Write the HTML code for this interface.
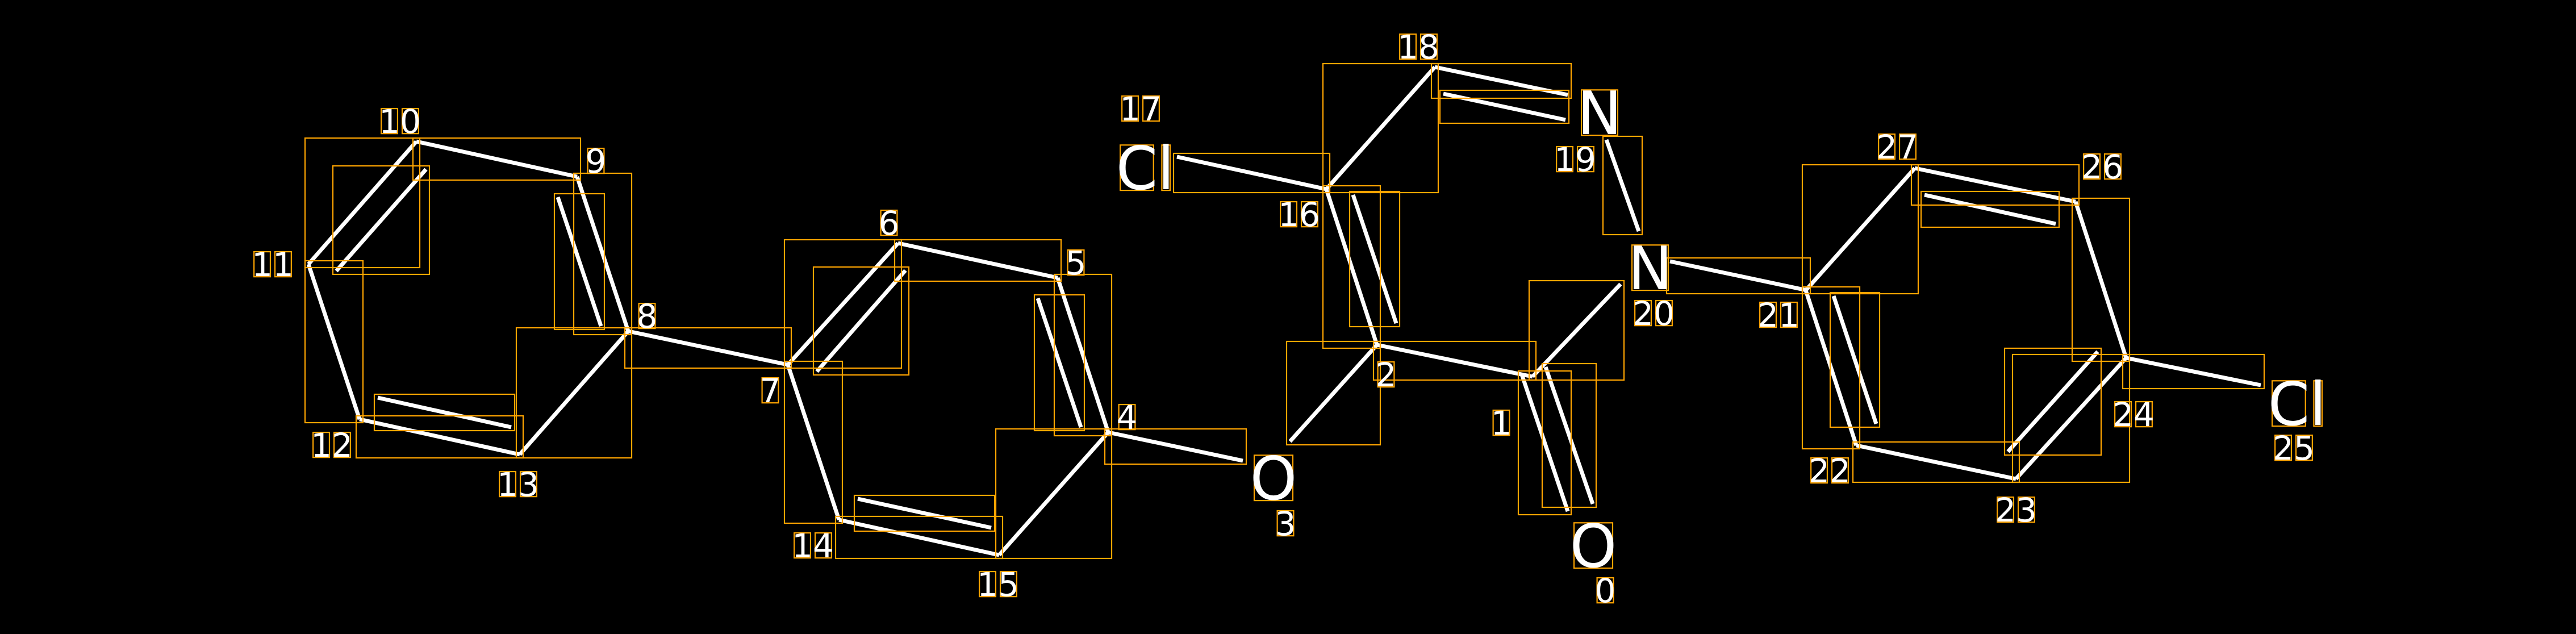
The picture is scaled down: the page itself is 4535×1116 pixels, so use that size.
<!DOCTYPE html>
<html><head><meta charset="utf-8">
<style>html,body{margin:0;padding:0;background:#000;}svg{display:block;}</style>
</head><body>
<svg id="s" width="4535" height="1116" viewBox="0 0 4535 1116" xmlns="http://www.w3.org/2000/svg">
<rect width="4535" height="1116" fill="#000"/>
<g id="bonds" stroke="#fff" stroke-width="7" stroke-linecap="butt"></g>
<g id="boxes" fill="none" stroke="#FFA500" stroke-width="2.2"></g>
<g id="labels" fill="#fff" font-family="DejaVu Sans, sans-serif">
<g font-size="58" text-anchor="middle">
<text x="704" y="234">10</text>
<text x="1049" y="304">9</text>
<text x="480" y="486">11</text>
<text x="584" y="804">12</text>
<text x="912" y="873">13</text>
<text x="1139" y="577">8</text>
<text x="1565" y="413">6</text>
<text x="1894" y="483">5</text>
<text x="1356" y="708">7</text>
<text x="1984" y="755">4</text>
<text x="1431" y="981">14</text>
<text x="1757" y="1049">15</text>
<text x="2008" y="212">17</text>
<text x="2497" y="103">18</text>
<text x="2287" y="398">16</text>
<text x="2773" y="301">19</text>
<text x="2911" y="572">20</text>
<text x="3131" y="575">21</text>
<text x="2440" y="680">2</text>
<text x="2643" y="765">1</text>
<text x="2263" y="942">3</text>
<text x="2826" y="1060">0</text>
<text x="3340" y="279">27</text>
<text x="3701" y="314">26</text>
<text x="3756" y="750">24</text>
<text x="3221" y="849">22</text>
<text x="3549" y="918">23</text>
<text x="4038" y="809">25</text>
</g>
<g font-size="105" text-anchor="middle">
<text x="2242" y="879">O</text>
<text x="2805" y="998">O</text>
<text x="2816" y="236">N</text>
<text x="2905" y="509">N</text>
<text x="2016" y="333">Cl</text>
<text x="4044" y="748">Cl</text>
</g>
</g>
</svg>
<script>
var B=[
[733,249,1016,311],[733,249,543,465],[543,465,633,738],[633,738,915,800],[915,800,1106,583],[1016,311,1106,583],
[750,298,592,477],[982,347,1058,574],[665,700,900,752],
[1106,583,1387,642],
[1387,642,1581,428],[1581,428,1862,489],[1862,489,1951,761],[1951,761,1759,977],[1759,977,1477,915],[1477,915,1387,642],
[1594,476,1438,654],[1827,525,1903,752],[1510,878,1745,929],
[1951,761,2188,811],
[2072,276,2335,333],[2335,333,2526,118],[2526,118,2760,167],[2541,165,2756,211],
[2828,246,2885,407],[2940,460,3181,511],
[2335,333,2424,607],[2382,343,2458,569],[2424,607,2271,777],[2424,607,2698,663],
[2698,663,2853,500],[2679,659,2760,900],[2721,646,2804,887],
[3179,511,3371,296],[3371,296,3654,355],[3654,355,3743,630],[3743,630,3549,843],[3549,843,3268,784],[3268,784,3179,511],
[3388,343,3619,394],[3228,521,3303,746],[3535,795,3693,619],
[3743,630,3980,678]
];
var NS="http://www.w3.org/2000/svg",bg=document.getElementById('bonds'),bx=document.getElementById('boxes');
function R(x,y,w,h){var r=document.createElementNS(NS,'rect');r.setAttribute('x',x);r.setAttribute('y',y);r.setAttribute('width',w);r.setAttribute('height',h);bx.appendChild(r);}
B.forEach(function(b){var l=document.createElementNS(NS,'line');l.setAttribute('x1',b[0]);l.setAttribute('y1',b[1]);l.setAttribute('x2',b[2]);l.setAttribute('y2',b[3]);bg.appendChild(l);
var p=6,x0=Math.min(b[0],b[2])-p,y0=Math.min(b[1],b[3])-p;R(x0,y0,Math.abs(b[2]-b[0])+2*p,Math.abs(b[3]-b[1])+2*p);});
document.querySelectorAll('#labels text').forEach(function(t){var fs=parseFloat(t.parentNode.getAttribute('font-size'));var y=parseFloat(t.getAttribute('y'));
for(var i=0;i<t.textContent.length;i++){try{var e=t.getExtentOfChar(i);var inset=fs*0.07;R(e.x+inset,y-fs*0.74,e.width-2*inset,fs*0.76);}catch(err){}}});
</script>
</body></html>
